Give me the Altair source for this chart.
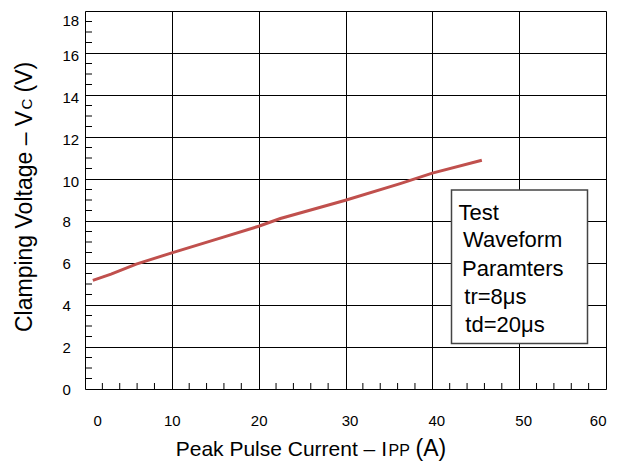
import altair as alt
import pandas as pd

# ---- data ----
current = [0.9, 3, 5.9, 10, 15, 20, 22.5, 30, 36.3, 40, 45.7]
voltage = [5.17, 5.47, 5.95, 6.48, 7.11, 7.75, 8.12, 8.99, 9.78, 10.28, 10.89]
x_ticks = [0, 10, 20, 30, 40, 50, 60]
y_ticks = [0, 2, 4, 6, 8, 10, 12, 14, 16, 18]
x_minor = [v for v in range(0, 61, 2) if v % 10]
y_minor = [v / 2 for v in range(0, 37) if v % 4]
legend_lines = ["Test", "Waveform", "Paramters", "tr=8μs", "td=20μs"]
x_title = ["Peak Pulse Current \u2013 I", "PP", "(A)"]
y_title = ["Clamping Voltage \u2013 V", "C", "(V)"]

W, H = 521, 378
FONT = "Liberation Sans"

xs = alt.Scale(domain=[0, 60], nice=False, zero=False)
ys = alt.Scale(domain=[0, 18], nice=False, zero=False)

x_axis = alt.Axis(
    values=x_ticks, grid=True, gridColor="black", gridWidth=1, gridOpacity=1,
    ticks=False, domain=False, title=None,
    labelFont=FONT, labelFontSize=15, labelColor="black",
    labelPadding=31, labelBaseline="middle",
    labelOffset={"condition": [{"test": "datum.value === 0", "value": 8},
                               {"test": "datum.value >= 30 && datum.value <= 50", "value": 4}],
                 "value": 0},
)
y_axis = alt.Axis(
    values=y_ticks, grid=True, gridColor="black", gridWidth=1, gridOpacity=1,
    ticks=False, domain=False, title=None,
    labelFont=FONT, labelFontSize=15, labelColor="black",
    labelPadding=23, labelAlign="left", labelBaseline="middle",
    labelOffset={"condition": [{"test": "datum.value === 18", "value": 9},
                               {"test": "datum.value >= 10 && datum.value <= 16", "value": 2}],
                 "value": 0},
)

df = pd.DataFrame({"I": current, "V": voltage})

curve = alt.Chart(df).mark_line(color="#c0504d", strokeWidth=3).encode(
    x=alt.X("I:Q", scale=xs, axis=x_axis),
    y=alt.Y("V:Q", scale=ys, axis=y_axis),
)

xminor = alt.Chart(pd.DataFrame({"I": x_minor})).mark_rule(color="black", strokeWidth=1).encode(
    x=alt.X("I:Q", scale=xs, axis=x_axis),
    y=alt.value(H), y2=alt.value(H - 6),
)
yminor = alt.Chart(pd.DataFrame({"V": y_minor})).mark_rule(color="black", strokeWidth=1).encode(
    y=alt.Y("V:Q", scale=ys, axis=y_axis),
    x=alt.value(0), x2=alt.value(7),
)

one = pd.DataFrame({"a": [0]})
box = alt.Chart(one).mark_rect(fill="white", stroke="#444444", strokeWidth=1.5).encode(
    x=alt.value(366.5), x2=alt.value(502.5), y=alt.value(179), y2=alt.value(332.5)
)

layers = [curve, xminor, yminor, box]

leg_x = [373.5, 378, 377, 379.3, 380.3]
leg_y = [209, 236.3, 265, 293, 321]
for t, lx, ly in zip(legend_lines, leg_x, leg_y):
    layers.append(alt.Chart(one).mark_text(
        text=t, font=FONT, fontSize=22, color="black", align="left", baseline="alphabetic"
    ).encode(x=alt.value(lx), y=alt.value(ly)))

# x title pieces
xt_x = [90.7, 303.5, 330.5]
xt_size = [21, 16, 23]
for t, px, fs in zip(x_title, xt_x, xt_size):
    layers.append(alt.Chart(one).mark_text(
        text=t, font=FONT, fontSize=fs, color="black", align="left", baseline="alphabetic"
    ).encode(x=alt.value(px), y=alt.value(445)))

# y title pieces (rotated)
yt_y = [321, 98.6, 81.5]
yt_size = [23, 15, 23]
for t, py, fs in zip(y_title, yt_y, yt_size):
    layers.append(alt.Chart(one).mark_text(
        text=t, font=FONT, fontSize=fs, color="black", align="left", baseline="alphabetic", angle=270
    ).encode(x=alt.value(-53.5), y=alt.value(py)))

chart = alt.layer(*layers).properties(
    width=W, height=H,
    autosize=alt.AutoSizeParams(type="none"),
    padding={"left": 77, "top": 3, "right": 10, "bottom": 72},
).configure_view(stroke="black", strokeWidth=1).configure(background="white")

chart.save("out.html", embed_options={"renderer": "svg", "actions": False})
